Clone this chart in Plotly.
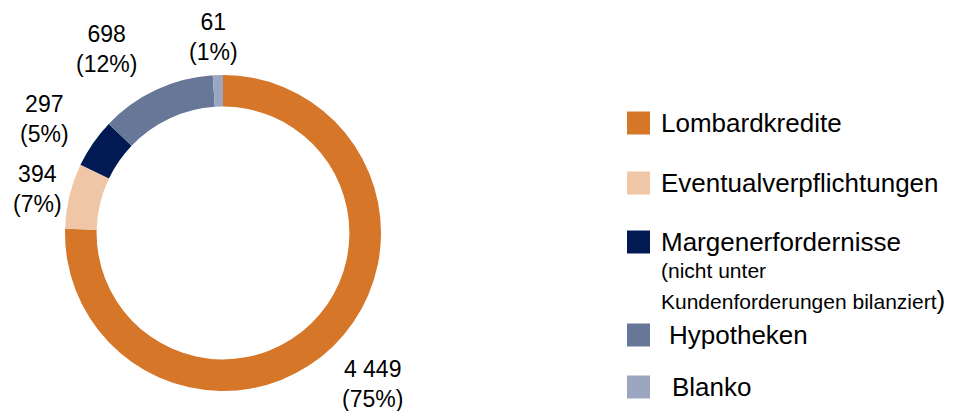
import plotly.graph_objects as go

# Kreditportfolio nach Art (Mio.)
categories = ["Lombardkredite", "Eventualverpflichtungen", "Margenerfordernisse", "Hypotheken", "Blanko"]
values = [4449, 394, 297, 698, 61]
colors = ["#D57629", "#EFC7A7", "#011A53", "#667798", "#9CA6C0"]

W, H = 954, 411
FONT = "Arial, Liberation Sans, sans-serif"

# ring geometry in pixels
cx, cy, R = 223, 233, 158

fig = go.Figure(go.Pie(
    labels=categories,
    values=values,
    marker=dict(colors=colors, line=dict(width=0)),
    hole=0.80,
    sort=False,
    direction="clockwise",
    rotation=0,
    textinfo="none",
    hoverinfo="label+value+percent",
    showlegend=False,
    domain=dict(x=[(cx - R) / W, (cx + R) / W], y=[(H - cy - R) / H, (H - cy + R) / H]),
))

total = sum(values)

def fmt(v):
    return f"{v:,}".replace(",", " ")

# value labels placed around the ring (pixel centres)
label_pos = [(372, 384), (37, 189), (44, 119), (106, 49), (213, 37)]
annotations = []
for v, (px, py) in zip(values, label_pos):
    annotations.append(dict(
        text=f"{fmt(v)}<br>({round(v / total * 100)}%)",
        x=px / W, y=1 - py / H, xref="paper", yref="paper",
        xanchor="center", yanchor="middle", showarrow=False,
        font=dict(family=FONT, size=23, color="#000000"),
    ))

# legend on the right
legend_y = [123, 183, 242, 335, 387]
legend_indent = [0, 0, 0, 8, 11]
shapes = []
sq = 23
for name, col, ly, ind in zip(categories, colors, legend_y, legend_indent):
    shapes.append(dict(
        type="rect", xref="paper", yref="paper",
        x0=627 / W, x1=(627 + sq) / W,
        y0=1 - (ly + sq / 2) / H, y1=1 - (ly - sq / 2) / H,
        fillcolor=col, line=dict(width=0),
    ))
    annotations.append(dict(
        text=name, x=(659 + ind) / W, y=1 - ly / H, xref="paper", yref="paper",
        xanchor="left", yanchor="middle", showarrow=False,
        font=dict(family=FONT, size=26, color="#000000"),
    ))

sub_lines = [("(nicht unter", 270), ("Kundenforderungen bilanziert<span style='font-size:26px'>)</span>", 300)]
for txt, ly in sub_lines:
    annotations.append(dict(
        text=txt, x=659 / W, y=1 - ly / H, xref="paper", yref="paper",
        xanchor="left", yanchor="middle", showarrow=False,
        font=dict(family=FONT, size=21, color="#000000"),
    ))

fig.update_layout(
    width=W, height=H,
    margin=dict(l=0, r=0, t=0, b=0),
    paper_bgcolor="white", plot_bgcolor="white",
    annotations=annotations, shapes=shapes,
)

fig.write_html("out.html")
